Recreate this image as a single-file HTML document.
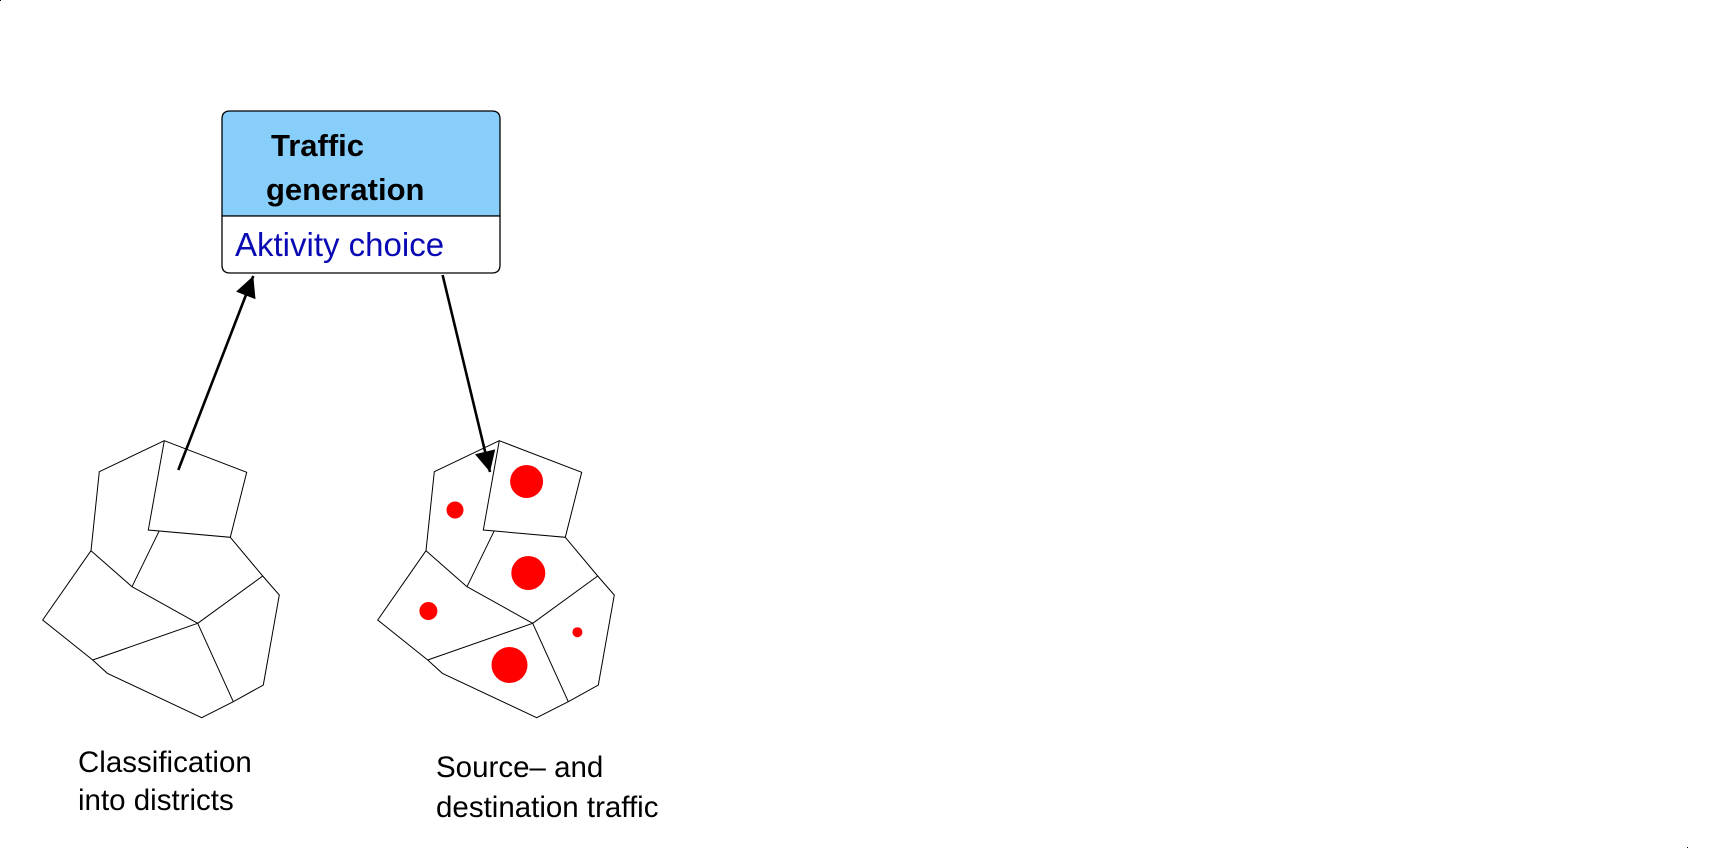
<!DOCTYPE html>
<html><head><meta charset="utf-8"><style>
html,body{margin:0;padding:0;background:#fff;width:1718px;height:850px;overflow:hidden}
svg{display:block}
text{font-family:"Liberation Sans",sans-serif}
</style></head><body>
<svg width="1718" height="850" viewBox="0 0 1718 850">
<defs>
<marker id="ah" viewBox="0 0 10 10" refX="10" refY="5" markerWidth="13" markerHeight="8" markerUnits="strokeWidth" orient="auto">
<path d="M0,0 L10,5 L0,10 z" fill="#000"/>
</marker>
</defs>
<g>
<path d="M230,111 H492 Q500,111 500,119 V216 H222 V119 Q222,111 230,111 Z" fill="#87cefa" stroke="#000" stroke-width="1.3"/>
<path d="M222,216 H500 V265 Q500,273 492,273 H230 Q222,273 222,265 Z" fill="#fff" stroke="#000" stroke-width="1.3"/>
<text x="271" y="156" font-size="31" font-weight="bold" fill="#000">Traffic</text>
<text x="266" y="200" font-size="31" font-weight="bold" fill="#000">generation</text>
<text x="235" y="256" font-size="33" fill="#0a0ab4">Aktivity choice</text>
</g>
<g fill="none" stroke="#000" stroke-width="1">
<polygon points="164.3,440.7 246.7,472.3 230.3,537.3 148.3,530"/>
<polyline points="164.3,440.7 99.3,471.7 91,550.7 42.7,620 92.7,660 107.3,673.3 201.7,717.7 233.3,701.7 263.3,685 279.3,595 262.7,576 230.3,537.3"/>
<line x1="159.3" y1="530.7" x2="132" y2="586.7"/>
<line x1="91" y1="550.7" x2="132" y2="586.7"/>
<line x1="132" y1="586.7" x2="197.7" y2="623.3"/>
<line x1="197.7" y1="623.3" x2="262.7" y2="576"/>
<line x1="197.7" y1="623.3" x2="233.3" y2="701.7"/>
<line x1="197.7" y1="623.3" x2="92.7" y2="660"/>
</g>
<g transform="translate(335,0)" fill="none" stroke="#000" stroke-width="1">
<polygon points="164.3,440.7 246.7,472.3 230.3,537.3 148.3,530"/>
<polyline points="164.3,440.7 99.3,471.7 91,550.7 42.7,620 92.7,660 107.3,673.3 201.7,717.7 233.3,701.7 263.3,685 279.3,595 262.7,576 230.3,537.3"/>
<line x1="159.3" y1="530.7" x2="132" y2="586.7"/>
<line x1="91" y1="550.7" x2="132" y2="586.7"/>
<line x1="132" y1="586.7" x2="197.7" y2="623.3"/>
<line x1="197.7" y1="623.3" x2="262.7" y2="576"/>
<line x1="197.7" y1="623.3" x2="233.3" y2="701.7"/>
<line x1="197.7" y1="623.3" x2="92.7" y2="660"/>
</g>
<g fill="#ff0000">
<circle cx="526.6" cy="481.5" r="16.5"/>
<circle cx="455" cy="510" r="8.5"/>
<circle cx="528.3" cy="573" r="17"/>
<circle cx="428.4" cy="611" r="9"/>
<circle cx="509.5" cy="665" r="18"/>
<circle cx="577.4" cy="632.2" r="5"/>
</g>
<line x1="178.3" y1="470" x2="253.3" y2="276" stroke="#000" stroke-width="2.6" marker-end="url(#ah)"/>
<line x1="442.6" y1="275" x2="490" y2="472" stroke="#000" stroke-width="2.6" marker-end="url(#ah)"/>
<text font-size="29.5" fill="#000"><tspan x="78" y="772">Classification</tspan><tspan x="78" y="810">into districts</tspan></text>
<text font-size="29.5" fill="#000"><tspan x="436" y="777">Source– and</tspan><tspan x="436" y="817">destination traffic</tspan></text>
<rect x="0" y="0" width="1" height="1" fill="#000"/>
<rect x="1687" y="847" width="1" height="1" fill="#000"/>
</svg>
</body></html>
